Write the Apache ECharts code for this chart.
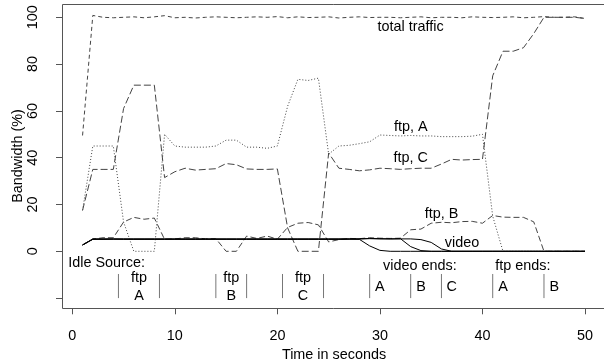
<!DOCTYPE html>
<html><head><meta charset="utf-8">
<script src="https://cdn.jsdelivr.net/npm/echarts@6/dist/echarts.min.js"></script>
<style>html,body{margin:0;padding:0;background:#fff}#c{width:604px;height:364px}</style>
</head><body><div id="c"></div>
<script>
// ---- data ----
const seconds = [1,2,3,4,5,6,7,8,9,10,11,12,13,14,15,16,17,18,19,20,21,22,23,24,25,26,27,28,29,30,31,32,33,34,35,36,37,38,39,40,41,42,43,44,45,46,47,48,49,50];
const totalTraffic = [49.5,100.8,100,99.8,100,100.2,99.8,100.2,100.7,99.8, 100,99.7,100,100.2,100,99.8,100,100.2,100,100.3, 99.8,100.2,99.9,100,100.2,99.7,100,100.2,99.9,100, 100,99.8,100,100.2,99.8,100,100,99.8,100.2,100, 99.9,100,100.2,99.8,100,100.3,100,100,100.2,99.5];
const ftpA = [17.5,45,45,45,12.5,0,0,0,50,45, 44.5,44.5,44.5,45,47.5,47.5,44.5,44.5,44,45, 62,73.5,73,74,41.5,45,45.3,46,46.8,49.7, 49.5,49.3,49.5,49.3,49.3,49,49,49,49.2,50, 15,0,0,0,0,0,0,0,0,0];
const ftpB = [2.7,5.2,5.8,5.8,12.5,14.5,13.7,14.2,5.1,5.3, 5.8,5.8,5.3,5.4,0,0,6.5,5.5,6.5,5.2, 10.2,12,12.3,11.3,4,5,5.5,5.4,5.8,5.6, 5.5,5.6,9.2,9.5,12,12.4,12.2,12.7,12.8,12, 15.3,14.6,14.5,14.5,12.6,0,0,0,0,0];
const ftpC = [17.5,35,35,35,61,71,71,71,31.5,34, 35.5,34.7,35,35.3,37.5,37,35.2,35,35,35.2, 10,0,0,0,42,35.5,35,34.4,34.8,35.5, 35.3,35,35.3,35.5,35.5,37.3,39.3,39,39.2,39.3, 75,85.5,85.5,87,93,100,100,100,100,99.5];
const videoA = [2.7,5.2,5.2,5.2,5.2,5.2,5.2,5.2,5.2,5.2, 5.2,5.2,5.2,5.2,5.2,5.2,5.2,5.2,5.2,5.2, 5.2,5.2,5.2,5.2,5.2,5.2,5.2,5.1,2.3,0.4, 0,0,0,0,0,0,0,0,0,0, 0,0,0,0,0,0,0,0,0,0];
const videoB = [2.7,5.1,5.1,5.2,5.1,5.1,5.1,5.1,5.1,5.1, 5.1,5.1,5.1,5.1,5.1,5.1,5.1,5.1,5.1,5.1, 5.1,5.1,5.1,5.1,5.1,5.1,5.2,5.3,5.4,5.3, 5.3,5.4,2.0,0.3,0,0,0,0,0,0, 0,0,0,0,0,0,0,0,0,0];
const videoC = [2.7,5.3,5.3,5.3,5.3,5.3,5.3,5.3,5.3,5.3, 5.3,5.3,5.3,5.3,5.3,5.3,5.3,5.3,5.3,5.3, 5.3,5.3,5.3,5.3,5.3,5.3,5.3,5.3,5.5,5.4, 5.3,5.3,5.3,5.0,3.8,1.0,0,0,0,0, 0,0,0,0,0,0,0,0,0,0];
const xTicks = [0,10,20,30,40,50];
const yTicks = [-20,0,20,40,60,80,100];
const yLabelled = [0,20,40,60,80,100];
const yTitle = 'Bandwidth (%)';
const xTitle = 'Time in seconds';
const idleTitle = 'Idle Source:';
const idlePeriods = [['A',4.5,8.5],['B',14,17],['C',20.5,24.5]];
const videoEndsTitle = 'video ends:';
const videoEnds = [['A',29],['B',33],['C',36]];
const ftpEndsTitle = 'ftp ends:';
const ftpEnds = [['A',41],['B',46]];
const lineLabels = [['total traffic',33,96.0],['ftp, A',33,53.3],['ftp, C',33,39.7],['ftp, B',36,16.0],['video',38,3.7]];

// ---- chart ----
const FF = '"Liberation Sans", Arial, Helvetica, sans-serif';
const FS = 14.4;
const pairs = v => seconds.map((s,i) => [s, v[i]]);
function lineSeries(name, values, dash, color, z) {
  return {name, type:'line', data:pairs(values), symbol:'none', clip:false, silent:true, z,
    lineStyle:{color, width:1, type:dash}};
}
const bars = [];
idlePeriods.forEach(p => bars.push(p[1], p[2]));
videoEnds.forEach(e => bars.push(e[1]));
ftpEnds.forEach(e => bars.push(e[1]));

const texts = [];
lineLabels.forEach(l => texts.push([l[0], l[1], l[2], 'center']));
texts.push([idleTitle, -0.4, -5.2, 'left']);
idlePeriods.forEach(p => {
  texts.push(['ftp', (p[1]+p[2])/2, -11.4, 'center']);
  texts.push([p[0], (p[1]+p[2])/2, -19, 'center']);
});
texts.push([videoEndsTitle, 33.9, -6.2, 'center']);
texts.push([ftpEndsTitle, 43.95, -6.2, 'center']);
videoEnds.concat(ftpEnds).forEach(e => texts.push([e[0], e[1]+1, -15.1, 'center']));

const chart = echarts.init(document.getElementById('c'));
chart.setOption({
  animation:false,
  backgroundColor:'#fff',
  grid:{left:72.3, right:19, top:17.3, bottom:65.9, containLabel:false, outerBoundsMode:'none'},
  graphic:[
    {type:'rect', shape:{x:62.5, y:4.5, width:544, height:304}, style:{fill:'none', stroke:'#555', lineWidth:1}, silent:true},
    {type:'text', x:18.5, y:156, rotation:Math.PI/2, silent:true,
      style:{text:yTitle, fill:'#000', font:FS+'px '+FF, align:'center', verticalAlign:'middle'}}
  ],
  xAxis:{type:'value', min:xTicks[0], max:xTicks[xTicks.length-1], interval:10, offset:10.2,
    axisLine:{show:false, onZero:false}, splitLine:{show:false},
    axisTick:{length:6, lineStyle:{color:'#555'}},
    axisLabel:{margin:28, verticalAlign:'middle', fontSize:FS, fontFamily:FF, color:'#000'},
    name:xTitle, nameLocation:'middle', nameGap:45,
    nameTextStyle:{fontSize:FS, fontFamily:FF, color:'#000', verticalAlign:'middle', padding:[0,0,0,10.7]}},
  yAxis:{type:'value', min:yTicks[0], max:yTicks[yTicks.length-1], interval:20, offset:10.3,
    axisLine:{show:false, onZero:false}, splitLine:{show:false},
    axisTick:{length:6, lineStyle:{color:'#555'}},
    axisLabel:{rotate:90, margin:28.7, align:'center', verticalAlign:'middle', fontSize:FS, fontFamily:FF, color:'#000',
      formatter: v => yLabelled.indexOf(v) >= 0 ? String(v) : ''}},
  series:[
    lineSeries('total traffic', totalTraffic, [4,3], '#444', 2),
    lineSeries('ftp A', ftpA, [1,2], '#444', 2),
    lineSeries('ftp C', ftpC, [7,3], '#444', 2),
    lineSeries('ftp B', ftpB, [6,3], '#444', 2),
    lineSeries('video A', videoA, 'solid', '#000', 3),
    lineSeries('video B', videoB, 'solid', '#000', 3),
    lineSeries('video C', videoC, 'solid', '#000', 3),
    {type:'custom', coordinateSystem:'cartesian2d', silent:true, clip:false, z:4,
      data: bars.map(t => [t, -20]),
      renderItem:(params, api) => {
        const t = api.value(0);
        const p1 = api.coord([t, -9.7]), p2 = api.coord([t, -20]);
        return {type:'line', shape:{x1:p1[0], y1:p1[1], x2:p2[0], y2:p2[1]}, style:{stroke:'#777', lineWidth:1}};
      }},
    {type:'custom', coordinateSystem:'cartesian2d', silent:true, clip:false, z:5,
      data: texts.map(a => [a[1], a[2]]),
      renderItem:(params, api) => {
        const a = texts[params.dataIndex];
        const p = api.coord([api.value(0), api.value(1)]);
        return {type:'text', x:p[0], y:p[1], style:{text:a[0], fill:'#000', font:FS+'px '+FF, align:a[3], verticalAlign:'middle'}};
      }}
  ]
});
</script>
</body></html>
